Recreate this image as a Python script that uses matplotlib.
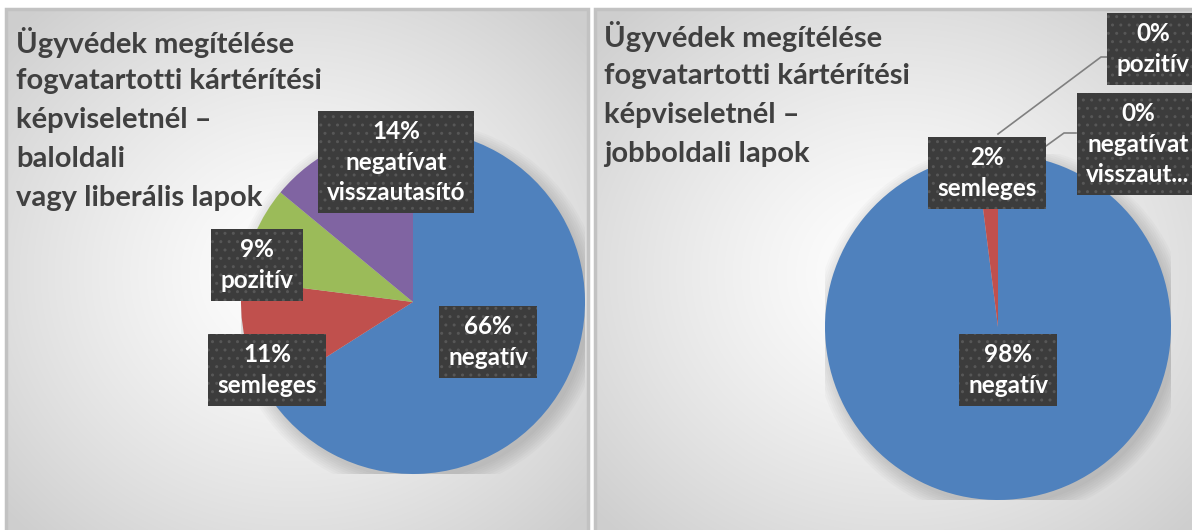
import numpy as np
import matplotlib.pyplot as plt
from matplotlib.patches import Rectangle

# data
categories = ['negatív', 'semleges', 'pozitív', 'negatívat\nvisszautasító']
left_values = [66, 11, 9, 14]
right_values = [98, 2, 0, 0]
colors = ['#4F81BD', '#C0504D', '#9BBB59', '#8064A2']

left_title = ['Ügyvédek megítélése', 'fogvatartotti kártérítési',
              'képviseletnél –', 'baloldali', 'vagy liberális lapok']
right_title = ['Ügyvédek megítélése', 'fogvatartotti kártérítési',
               'képviseletnél –', 'jobboldali lapok']

W, H = 1192, 530
plt.rcParams['font.family'] = ['Lato', 'DejaVu Sans']
fig = plt.figure(figsize=(W / 100, H / 100), dpi=100)


def px_axes(x0, y0, w, h):
    return fig.add_axes([x0 / W, 1 - (y0 + h) / H, w / W, h / H])


def panel(x0, y0, w, h):
    ax = px_axes(x0, y0, w, h)
    yy, xx = np.mgrid[-1:1:200j, -1:1:200j]
    d = np.clip(np.sqrt(xx ** 2 + yy ** 2) / 1.35, 0, 1)
    g = 1.0 - 0.19 * d ** 1.3
    img = np.dstack([g, g, g])
    ax.imshow(img, extent=[0, 1, 0, 1], aspect='auto', interpolation='bilinear')
    ax.add_patch(Rectangle((0, 0), 1, 1, fill=False, ec='#c2c2c2', lw=2.5,
                           transform=ax.transAxes, clip_on=False))
    ax.set_xlim(0, 1)
    ax.set_ylim(0, 1)
    ax.axis('off')
    return ax


def title(lines, x, y0, dy):
    for i, s in enumerate(lines):
        fig.text(x / W, 1 - (y0 + i * dy) / H, s, fontsize=21, fontweight='bold',
                 color='#404040', va='center', ha='left')


def pie(values, cx, cy, r):
    ax = px_axes(cx - r, cy - r, 2 * r, 2 * r)
    # soft shadow
    for k in range(8):
        ax.add_patch(plt.Circle((0.02, -0.03), 1.0 + 0.012 * k, color='#000000',
                                alpha=0.018, lw=0))
    ax.pie(values, colors=colors, startangle=90, counterclock=False, radius=1,
           wedgeprops=dict(lw=0))
    ax.set_xlim(-1, 1)
    ax.set_ylim(-1, 1)
    ax.set_aspect('equal')
    ax.axis('off')
    return ax


def label(ax, cx, cy, r, px, py, text):
    ax.text((px - cx) / r, -(py - cy) / r, text, ha='center', va='center',
            fontsize=17.5, fontweight='bold', color='white', linespacing=1.37,
            clip_on=False, zorder=10,
            bbox=dict(boxstyle='square,pad=0.38', fc='#3c3c3c', ec='#575757',
                      hatch='..', lw=0))


panel(6, 9, 582, 530)
panel(595, 9, 605, 530)

title(left_title, 16, 42, 39)
title(right_title, 604, 37, 39)

# left pie
lcx, lcy, lr = 413, 302, 172
axl = pie(left_values, lcx, lcy, lr)
lpos = [(488, 342), (267, 370), (257, 265), (396, 162)]
for (px, py), v, c in zip(lpos, left_values, categories):
    label(axl, lcx, lcy, lr, px, py, f'{v}%\n{c}')

# right pie
rcx, rcy, rr = 998, 327, 173
axr = pie(right_values, rcx, rcy, rr)
rtexts = ['negatív', 'semleges', 'pozitív', 'negatívat\nvisszaut...']
rpos = [(1008, 370), (987, 173), (1153, 49), (1138, 144)]
# leader lines for the tiny slices
lines = [[(998, 134), (1101, 57), (1110, 57)],
         [(1046, 146), (1064, 133), (1076, 133)]]
for pts in lines:
    xs = [(p[0] - rcx) / rr for p in pts]
    ys = [-(p[1] - rcy) / rr for p in pts]
    axr.plot(xs, ys, color='#808080', lw=1.2, clip_on=False, zorder=5)
for (px, py), v, c in zip(rpos, right_values, rtexts):
    label(axr, rcx, rcy, rr, px, py, f'{v}%\n{c}')

fig.savefig('out.png', dpi=100)
